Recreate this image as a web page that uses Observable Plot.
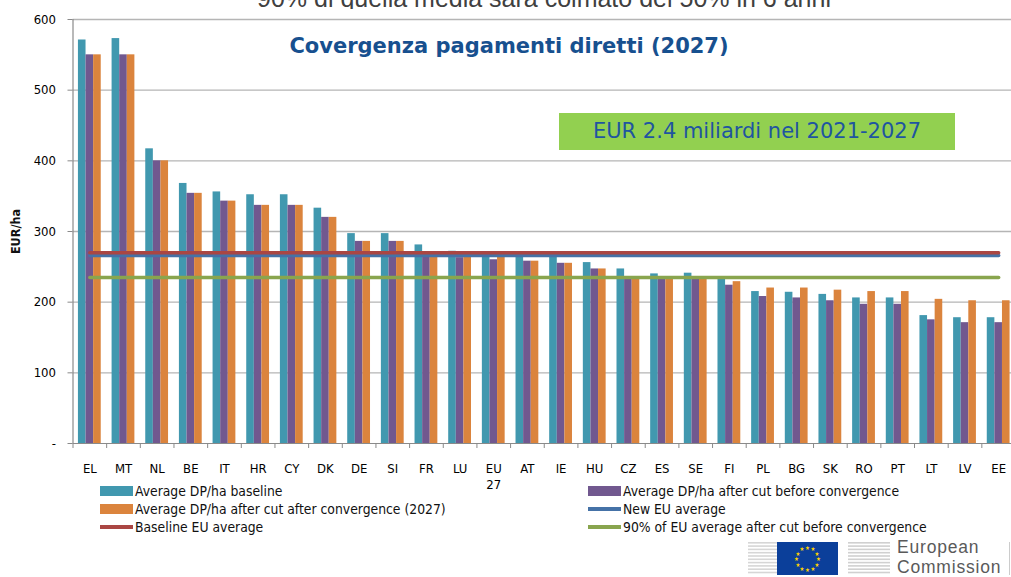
<!DOCTYPE html>
<html>
<head>
<meta charset="utf-8">
<script src="https://cdn.jsdelivr.net/npm/d3@7"></script>
<script src="https://cdn.jsdelivr.net/npm/@observablehq/plot@0.6"></script>
<style>
  html, body { margin: 0; padding: 0; background: #fff; }
  #wrap { position: relative; width: 1011px; height: 577px; overflow: hidden; font-family: "Liberation Sans Narrow", "DejaVu Sans Condensed", sans-serif; }
  #topcut { position: absolute; left: 0; top: 0; width: 1011px; height: 9px; overflow: hidden; }
  #topcut div { position: absolute; left: 0; width: 1011px; top: -16px; text-align: center; padding-left: 77px; box-sizing: border-box; font-family: "Liberation Sans", Arial, sans-serif; font-size: 25px; color: #404040; white-space: nowrap; }
  #chart { position: absolute; left: 0; top: 0; }
  #title { position: absolute; left: 0; width: 1011px; top: 34px; text-align: center; padding-left: 7px; box-sizing: border-box; font-family: "DejaVu Sans", Verdana, sans-serif; font-weight: bold; font-size: 21px; color: #17508f; white-space: nowrap; }
  #box { position: absolute; left: 559px; top: 113px; width: 396px; height: 37px; background: #92d050; color: #1f55a0; font-family: "DejaVu Sans", Verdana, sans-serif; font-size: 21px; line-height: 37px; text-align: center; white-space: nowrap; }
  .leg { position: absolute; display: flex; align-items: center; font-size: 13.8px; color: #111; white-space: nowrap; height: 18px; }
  .sw { width: 33px; height: 10px; margin-right: 2px; }
  .ln { width: 33px; height: 4px; margin-right: 2px; }
  #logo { position: absolute; left: 740px; top: 530px; }
</style>
</head>
<body>
<div id="wrap">
  <div id="topcut"><div>90% di quella media sarà colmato del 50% in 6 anni</div></div>
  <div id="chart"></div>
  <div id="title">Covergenza pagamenti diretti (2027)</div>
  <div id="box">EUR 2.4 miliardi nel 2021-2027</div>
  <div id="legend"></div>
  <div id="logo"></div>
</div>
<script>
// ---- data ----
const countries = ["EL","MT","NL","BE","IT","HR","CY","DK","DE","SI","FR","LU","EU 27","AT","IE","HU","CZ","ES","SE","FI","PL","BG","SK","RO","PT","LT","LV","EE"];
const baselineDP  = [571,573,417,368,356,352,352,333,297,297,281,272,270,269,266,256,247,240,241,234,215,214,211,206,206,181,178,178];
const afterCutDP  = [550,550,400,354,343,337,337,320,286,286,264,263,260,258,255,247,235,233,233,224,208,206,202,197,197,175,171,171];
const convergedDP = [550,550,400,354,343,337,337,320,286,286,265,264,264,258,255,247,235,233,233,229,220,220,217,215,215,204,202,202];
const newEUAverage = 266;
const baselineEUAverage = 270;
const ninetyPctAverage = 235;
const yTicks = [0,100,200,300,400,500,600];

const seriesNames = [
  "Average DP/ha baseline",
  "Average DP/ha after cut before convergence",
  "Average DP/ha after cut after convergence (2027)",
  "New EU average",
  "Baseline EU average",
  "90% of EU average after cut before convergence"
];
const colors = ["#4198af", "#71588f", "#db843d", "#4572a7", "#aa4643", "#89a54e"];

// ---- layout ----
const W = 1011, H = 496, mL = 72.5, mR = -4, mT = 19, mB = 53;
const step = (W - mL - mR) / countries.length;
const bw = 7.6;
const off = (step - 3 * bw) / 2;

const rows = (vals) => countries.map((c, i) => ({country: c, value: vals[i]}));
const flat = (v) => countries.map(c => ({country: c, value: v}));

const plot = Plot.plot({
  width: W, height: H,
  marginLeft: mL, marginRight: mR, marginTop: mT, marginBottom: mB,
  style: {fontFamily: '"Liberation Sans Narrow", "DejaVu Sans Condensed", sans-serif', fontSize: "13px", color: "#000", background: "transparent", overflow: "visible"},
  x: {domain: countries, padding: 0, round: false, label: null},
  y: {domain: [0, 600], label: null},
  marks: [
    Plot.gridY(yTicks.filter(d => d > 0), {stroke: "#b5b5b5", strokeOpacity: 1, strokeWidth: 1.4}),
    Plot.barY(rows(baselineDP), {x: "country", y: "value", fill: colors[0], insetLeft: off, insetRight: step - off - bw}),
    Plot.barY(rows(afterCutDP), {x: "country", y: "value", fill: colors[1], insetLeft: off + bw, insetRight: step - off - 2 * bw}),
    Plot.barY(rows(convergedDP), {x: "country", y: "value", fill: colors[2], insetLeft: off + 2 * bw, insetRight: off}),
    Plot.lineY(flat(newEUAverage), {x: "country", y: "value", stroke: colors[3], strokeWidth: 3.5}),
    Plot.lineY(flat(baselineEUAverage), {x: "country", y: "value", stroke: colors[4], strokeWidth: 3.5}),
    Plot.lineY(flat(ninetyPctAverage), {x: "country", y: "value", stroke: colors[5], strokeWidth: 3.5}),
    Plot.ruleY([0], {stroke: "#8a8a8a", strokeWidth: 1.2}),
    Plot.ruleX([countries[0]], {y1: 0, y2: 600, dx: -step / 2, stroke: "#8a8a8a", strokeWidth: 1.2}),
    Plot.axisY({ticks: yTicks, tickSize: 5, tickPadding: 12, stroke: "#8a8a8a", fontSize: 13, tickFormat: d => d === 0 ? "-" : String(d), label: null}),
    Plot.axisX({tickSize: 5, dx: -step / 2, tickFormat: () => "", stroke: "#8a8a8a", label: null}),
    Plot.axisX({tickSize: 0, tickPadding: 17, fontSize: 13, lineHeight: 1.3, tickFormat: d => d.replace(" ", "\n"), label: null}),
    Plot.text(["EUR/ha"], {frameAnchor: "left", textAnchor: "middle", dx: -57, rotate: -90, fontSize: 12.5, fontWeight: "bold", fill: "#111"})
  ]
});
document.getElementById("chart").appendChild(plot);

// ---- legend ----
const legendItems = [
  {i: 0, kind: "bar", x: 100, y: 482},
  {i: 1, kind: "bar", x: 588, y: 482},
  {i: 2, kind: "bar", x: 100, y: 500},
  {i: 3, kind: "line", x: 588, y: 500},
  {i: 4, kind: "line", x: 100, y: 518},
  {i: 5, kind: "line", x: 588, y: 518}
];
const leg = document.getElementById("legend");
legendItems.forEach(it => {
  const d = document.createElement("div");
  d.className = "leg";
  d.style.left = it.x + "px";
  d.style.top = it.y + "px";
  const s = document.createElement("span");
  s.className = it.kind === "bar" ? "sw" : "ln";
  s.style.background = colors[it.i];
  d.appendChild(s);
  d.appendChild(document.createTextNode(seriesNames[it.i]));
  leg.appendChild(d);
});

// ---- logo (decoration) ----
const svg = d3.select("#logo").append("svg").attr("width", 271).attr("height", 47);
for (let k = 0; k < 10; k++) {
  svg.append("rect").attr("x", 8).attr("y", 12 + k * 3.3).attr("width", 29).attr("height", 1.6).attr("fill", "#d6d6d6");
  svg.append("rect").attr("x", 108).attr("y", 12 + k * 3.3).attr("width", 42).attr("height", 1.6).attr("fill", "#d0d0d0");
}
svg.append("rect").attr("x", 37).attr("y", 12).attr("width", 61).attr("height", 33).attr("fill", "#0b3f9a");
for (let k = 0; k < 12; k++) {
  const a = k * Math.PI / 6;
  svg.append("text").attr("x", 67.5 + 11 * Math.cos(a)).attr("y", 28.5 + 11 * Math.sin(a)).attr("text-anchor", "middle").attr("dominant-baseline", "central").attr("font-size", 6).attr("fill", "#ffd200").text("★");
}
svg.append("text").attr("x", 157).attr("y", 22.5).attr("font-family", "Liberation Sans, Arial, sans-serif").attr("font-size", 17.5).attr("letter-spacing", 0.8).attr("fill", "#5a5a5a").text("European");
svg.append("text").attr("x", 157).attr("y", 43).attr("font-family", "Liberation Sans, Arial, sans-serif").attr("font-size", 17.5).attr("letter-spacing", 0.8).attr("fill", "#5a5a5a").text("Commission");
svg.append("rect").attr("x", 269).attr("y", 12).attr("width", 1).attr("height", 33).attr("fill", "#cccccc");
</script>
</body>
</html>
